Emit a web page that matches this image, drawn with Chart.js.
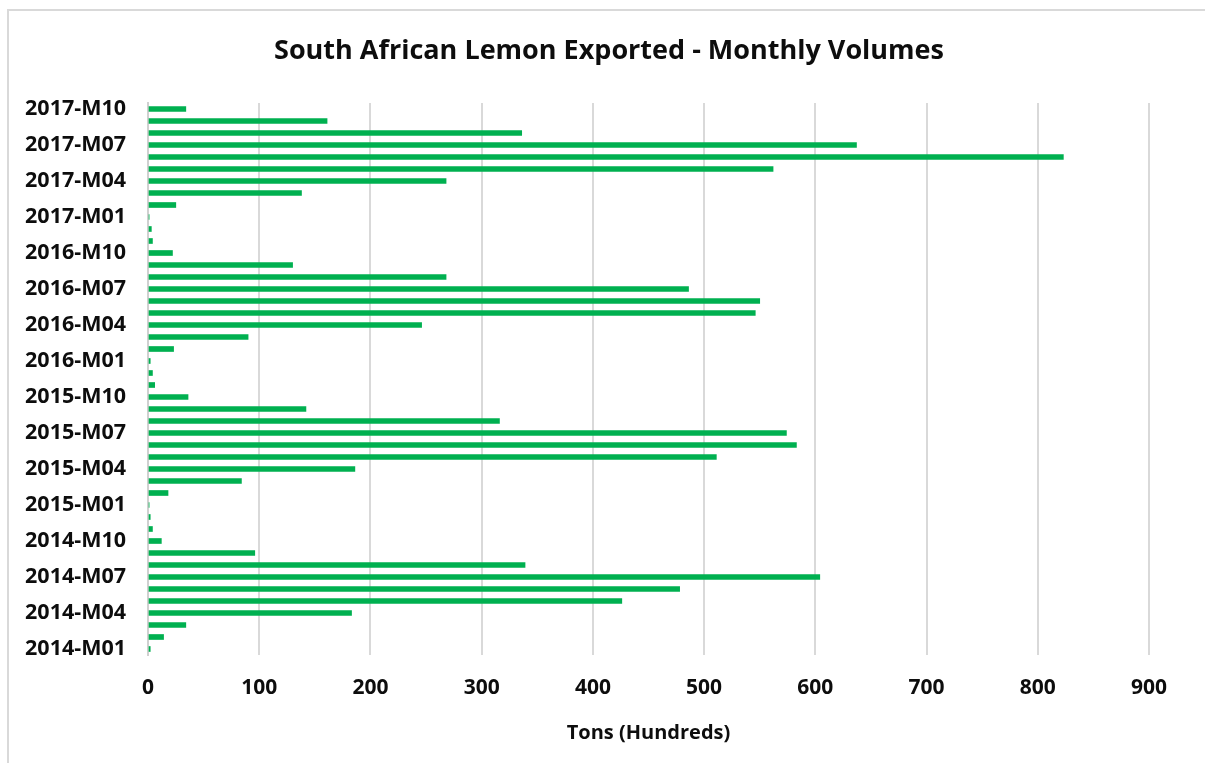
<!DOCTYPE html>
<html>
<head>
<meta charset="utf-8">
<script src="https://cdn.jsdelivr.net/npm/chart.js@4/dist/chart.umd.min.js"></script>
<style>
  html, body { margin: 0; padding: 0; background: #fff; }
  #frame {
    position: absolute; left: 7px; top: 9px; width: 1400px; height: 900px;
    border-left: 2px solid #d9d9d9; border-top: 2px solid #d9d9d9;
  }
  #wrap { position: absolute; left: 0; top: 0; width: 1205px; height: 763px; }
</style>
</head>
<body>
<div id="frame"></div>
<div id="wrap"><canvas id="chart" width="1205" height="763"></canvas></div>
<script>
// Monthly categories, oldest first
const months = [
  '2014-M01','2014-M02','2014-M03','2014-M04','2014-M05','2014-M06',
  '2014-M07','2014-M08','2014-M09','2014-M10','2014-M11','2014-M12',
  '2015-M01','2015-M02','2015-M03','2015-M04','2015-M05','2015-M06',
  '2015-M07','2015-M08','2015-M09','2015-M10','2015-M11','2015-M12',
  '2016-M01','2016-M02','2016-M03','2016-M04','2016-M05','2016-M06',
  '2016-M07','2016-M08','2016-M09','2016-M10','2016-M11','2016-M12',
  '2017-M01','2017-M02','2017-M03','2017-M04','2017-M05','2017-M06',
  '2017-M07','2017-M08','2017-M09','2017-M10'
];

// Export volumes per year, in hundreds of tons
const volumes2014 = [2, 14, 34, 183, 426, 478, 604, 339, 96, 12, 4, 2];
const volumes2015 = [1, 18, 84, 186, 511, 583, 574, 316, 142, 36, 6, 4];
const volumes2016 = [2, 23, 90, 246, 546, 550, 486, 268, 130, 22, 4, 3];
const volumes2017 = [1, 25, 138, 268, 562, 823, 637, 336, 161, 34];

const volumes = [].concat(volumes2014, volumes2015, volumes2016, volumes2017);

// Value axis ticks
const xTicks = [0, 100, 200, 300, 400, 500, 600, 700, 800, 900];

const FONT = "'Open Sans', 'Liberation Sans', sans-serif";
const TEXT = '#0d0d0d';

new Chart(document.getElementById('chart'), {
  type: 'bar',
  data: {
    labels: months,
    datasets: [{
      label: 'Tons (Hundreds)',
      data: volumes,
      backgroundColor: '#00B050',
      borderWidth: 0,
      barThickness: 5
    }]
  },
  options: {
    indexAxis: 'y',
    responsive: false,
    animation: false,
    layout: { padding: { left: 13, right: 0, top: 0, bottom: 0 } },
    plugins: {
      legend: { display: false },
      tooltip: { enabled: false },
      title: {
        display: true,
        text: 'South African Lemon Exported - Monthly Volumes',
        color: TEXT,
        font: { family: FONT, size: 27, weight: 'bold', lineHeight: 1.2 },
        padding: { top: 35, bottom: 35.6 }
      }
    },
    scales: {
      x: {
        type: 'linear',
        min: xTicks[0],
        max: xTicks[xTicks.length - 1],
        afterBuildTicks: (scale) => { scale.ticks = xTicks.map(v => ({ value: v })); },
        afterFit: (scale) => { scale.height = 108; },
        grid: { color: '#d9d9d9', lineWidth: 2, drawTicks: false },
        border: { display: false },
        ticks: {
          color: TEXT,
          padding: 20,
          font: { family: FONT, size: 21, weight: 'bold' }
        },
        title: {
          display: true,
          text: 'Tons (Hundreds)',
          color: TEXT,
          font: { family: FONT, size: 20, weight: 'bold', lineHeight: 1.2 },
          padding: { top: 0, bottom: 18 }
        }
      },
      y: {
        reverse: true,
        afterFit: (scale) => { scale.width = 135; },
        grid: { display: false, drawTicks: false },
        border: { display: true, color: '#d0d0d0', width: 2 },
        ticks: {
          autoSkip: false,
          color: TEXT,
          padding: 22,
          font: { family: FONT, size: 21.5, weight: 'bold' },
          callback: function (value, index) {
            return index % 3 === 0 ? this.getLabelForValue(value) : '';
          }
        }
      },
      // empty right-hand margin axis
      yRight: {
        axis: 'y',
        type: 'category',
        position: 'right',
        afterFit: (scale) => { scale.width = 56; },
        grid: { display: false, drawTicks: false },
        border: { display: false },
        ticks: { display: false }
      }
    }
  }
});
</script>
</body>
</html>
